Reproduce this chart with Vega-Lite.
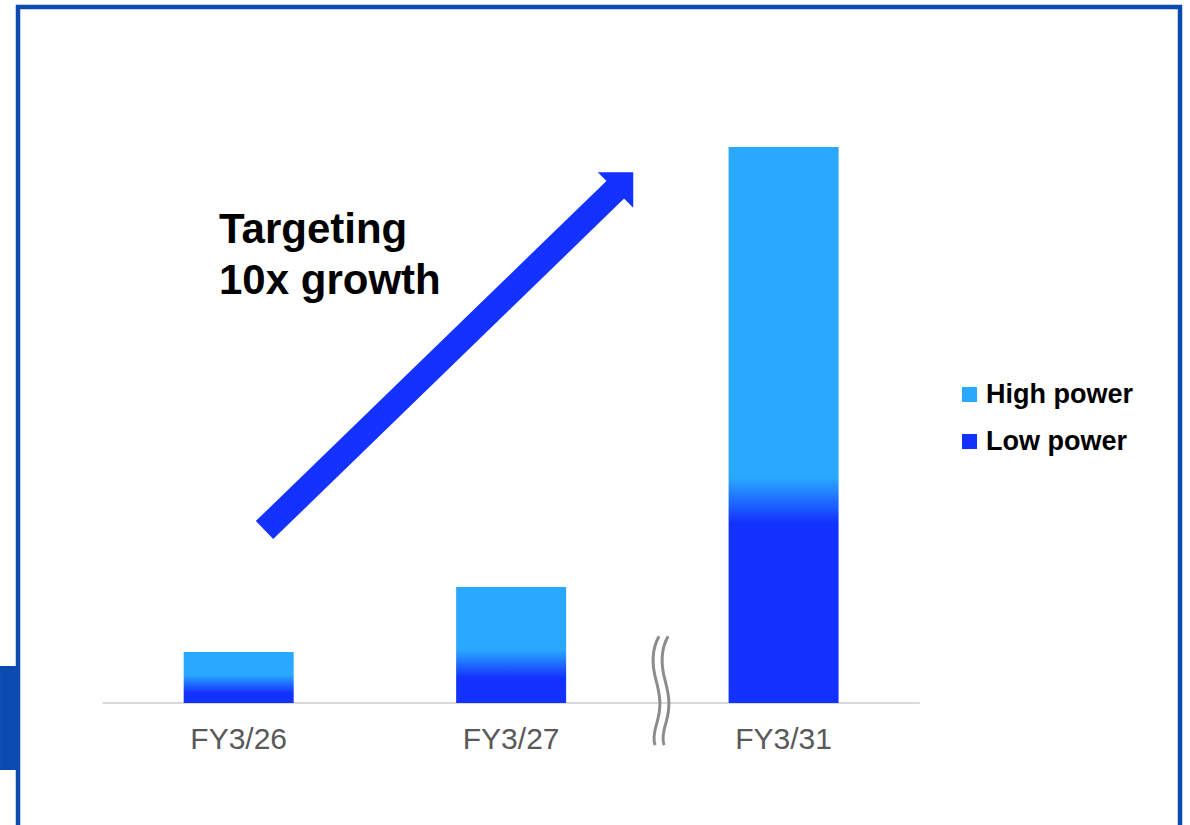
{
  "$schema": "https://vega.github.io/schema/vega-lite/v6.json",
  "autosize": {"type": "none"},
  "padding": {"left": 18, "top": 7, "right": 10, "bottom": 0},
  "width": 1162,
  "height": 830,
  "background": "#ffffff",
  "config": {
    "view": {"stroke": "#0B4BB0", "strokeWidth": 4.5},
    "font": "Liberation Sans"
  },
  "datasets": {
    "sales": [
      {"FY": "FY3/26", "slot": 1, "power": "Low power", "value": 1.63},
      {"FY": "FY3/26", "slot": 1, "power": "High power", "value": 7.59},
      {"FY": "FY3/27", "slot": 2, "power": "Low power", "value": 4.52},
      {"FY": "FY3/27", "slot": 2, "power": "High power", "value": 16.45},
      {"FY": "FY3/31", "slot": 3, "power": "Low power", "value": 32.53},
      {"FY": "FY3/31", "slot": 3, "power": "High power", "value": 67.95}
    ]
  },
  "layer": [
    {
      "data": {"values": [{"x": 0.124, "x2": 0.19, "y": 6.7, "y2": -12.1}]},
      "mark": {"type": "rect", "color": "#0B4BB0"},
      "encoding": {
        "x": {"field": "x", "type": "quantitative", "scale": {"domain": [0.19, 4.455], "nice": false, "zero": false, "padding": 0}, "axis": null},
        "x2": {"field": "x2"},
        "y": {"field": "y", "type": "quantitative", "scale": {"domain": [-24.2, 125.8], "nice": false, "zero": false, "padding": 0}, "axis": null},
        "y2": {"field": "y2"}
      }
    },
    {
      "data": {"values": [{"start": 0.5, "end": 3.5, "level": 0}]},
      "mark": {"type": "rule", "color": "#D9D9D9", "strokeWidth": 2},
      "encoding": {
        "x": {"field": "start", "type": "quantitative"},
        "x2": {"field": "end"},
        "y": {"field": "level", "type": "quantitative"}
      }
    },
    {
      "data": {"name": "sales"},
      "mark": {"type": "bar", "width": 110},
      "encoding": {
        "x": {"field": "slot", "type": "quantitative"},
        "y": {"field": "value", "type": "quantitative", "stack": "zero"},
        "order": {"field": "power", "sort": "descending"},
        "color": {
          "field": "power",
          "type": "nominal",
          "scale": {"domain": ["High power", "Low power"], "range": ["#29A8FF", "#1432FF"]},
          "legend": {
            "orient": "none",
            "legendX": 938,
            "legendY": 374,
            "title": null,
            "symbolType": "square",
            "symbolSize": 225,
            "symbolStrokeWidth": 0,
            "labelFont": "Liberation Sans",
            "labelFontSize": 27,
            "labelFontWeight": "bold",
            "labelColor": "#000000",
            "labelOffset": 3,
            "rowPadding": 19
          },
          "condition": [
            {"test": "datum.power === 'High power' && datum.FY === 'FY3/26'",
             "value": {"gradient": "linear", "x1": 0, "y1": 0, "x2": 0, "y2": 1,
                       "stops": [{"offset": 0, "color": "#29A8FF"}, {"offset": 0.55, "color": "#29A8FF"}, {"offset": 0.97, "color": "#1432FF"}, {"offset": 1, "color": "#1432FF"}]}},
            {"test": "datum.power === 'High power' && datum.FY === 'FY3/27'",
             "value": {"gradient": "linear", "x1": 0, "y1": 0, "x2": 0, "y2": 1,
                       "stops": [{"offset": 0, "color": "#29A8FF"}, {"offset": 0.69, "color": "#29A8FF"}, {"offset": 1, "color": "#1432FF"}]}},
            {"test": "datum.power === 'High power' && datum.FY === 'FY3/31'",
             "value": {"gradient": "linear", "x1": 0, "y1": 0, "x2": 0, "y2": 1,
                       "stops": [{"offset": 0, "color": "#29A8FF"}, {"offset": 0.88, "color": "#29A8FF"}, {"offset": 1, "color": "#1432FF"}]}}
          ]
        }
      }
    },
    {
      "data": {"name": "sales"},
      "transform": [{"filter": "datum.power === 'Low power'"}],
      "mark": {"type": "text", "dy": 46, "baseline": "alphabetic", "align": "center", "fontSize": 30, "font": "Liberation Sans", "color": "#595959"},
      "encoding": {
        "x": {"field": "slot", "type": "quantitative"},
        "y": {"datum": 0, "type": "quantitative"},
        "text": {"field": "FY"}
      }
    },
    {
      "data": {"values": [{"where": 2.554, "level": 2.35}]},
      "mark": {
        "type": "point",
        "shape": "M -0.055 -0.98 C -0.18 -0.76 -0.2 -0.51 -0.11 -0.18 C -0.02 0.15 -0.02 0.33 -0.09 0.58 C -0.145 0.76 -0.165 0.91 -0.127 1.0 M 0.109 -0.98 C -0.016 -0.76 -0.036 -0.51 0.054 -0.18 C 0.144 0.15 0.144 0.33 0.074 0.58 C 0.019 0.76 -0.001 0.91 0.037 1.0",
        "size": 12100,
        "filled": false,
        "stroke": "#8C8C8C",
        "strokeWidth": 3,
        "opacity": 1
      },
      "encoding": {
        "x": {"field": "where", "type": "quantitative"},
        "y": {"field": "level", "type": "quantitative"}
      }
    },
    {
      "data": {"values": [{"x0": 1.0948, "y0": 31.27, "x1": 2.396, "y1": 93.43}]},
      "mark": {"type": "rule", "color": "#1432FF", "strokeWidth": 25, "strokeCap": "butt"},
      "encoding": {
        "x": {"field": "x0", "type": "quantitative"},
        "y": {"field": "y0", "type": "quantitative"},
        "x2": {"field": "x1"},
        "y2": {"field": "y1"}
      }
    },
    {
      "data": {"values": [{"x": 2.383, "y": 92.71}]},
      "mark": {"type": "point", "shape": "M -1 -1 L 1 -1 L 1 1 Z", "size": 1260, "filled": true, "color": "#1432FF", "opacity": 1, "strokeWidth": 0},
      "encoding": {
        "x": {"field": "x", "type": "quantitative"},
        "y": {"field": "y", "type": "quantitative"}
      }
    },
    {
      "data": {"values": [{"x": 0.9277, "y": 83.13, "label": "Targeting\n10x growth"}]},
      "mark": {"type": "text", "align": "left", "baseline": "alphabetic", "lineBreak": "\n", "lineHeight": 51, "fontSize": 42, "fontWeight": "bold", "font": "Liberation Sans", "color": "#000000"},
      "encoding": {
        "x": {"field": "x", "type": "quantitative"},
        "y": {"field": "y", "type": "quantitative"},
        "text": {"field": "label"}
      }
    }
  ]
}
